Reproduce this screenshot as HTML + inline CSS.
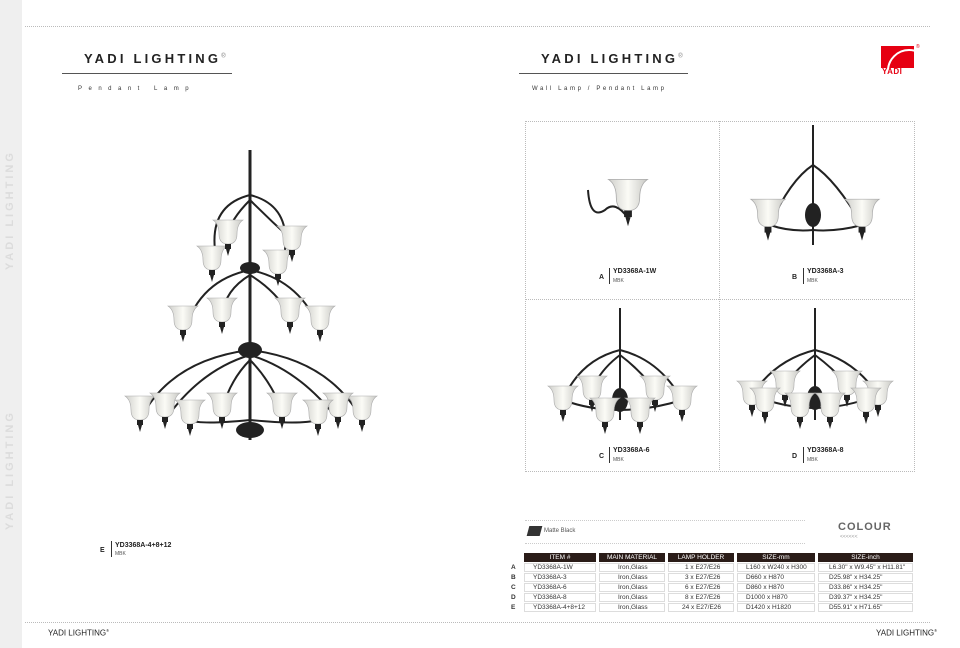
<!DOCTYPE html>
<html><head><meta charset="utf-8"><style>
body{margin:0;width:960px;height:648px;background:#fff;position:relative;overflow:hidden;font-family:"Liberation Sans",sans-serif;color:#222}
.a{position:absolute}
.t{font-size:13px;font-weight:bold;letter-spacing:3.2px}
.sub{font-size:6px;letter-spacing:6.5px;color:#333}
table{border-collapse:separate;border-spacing:3px 1px;font-size:6.5px;color:#333}
th{background:#2a1c18;color:#fff;font-weight:normal;height:9px;padding:0}
td{border:1px solid #ddd;height:7px;padding:0 0 0 8px;line-height:7px}
.lab{font-size:7px;font-weight:bold}
.mbk{font-size:5px;color:#555}
</style></head><body>
<div class="a" style="left:0;top:0;width:22px;height:648px;background:#efefef"></div>
<div class="a" style="left:4px;top:150px;width:14px;height:120px;color:#dcdcdc;font-size:11px;letter-spacing:3px;writing-mode:vertical-rl;transform:rotate(180deg);font-weight:bold">YADI LIGHTING</div>
<div class="a" style="left:4px;top:400px;width:14px;height:130px;color:#dcdcdc;font-size:11px;letter-spacing:3px;writing-mode:vertical-rl;transform:rotate(180deg);font-weight:bold">YADI LIGHTING</div>
<div class="a" style="left:25px;top:26px;width:905px;border-top:1px dotted #bbb"></div>
<div class="a" style="left:25px;top:622px;width:905px;border-top:1px dotted #bbb"></div>
<div class="a" style="left:48px;top:628px;font-size:8px">YADI LIGHTING<sup style="font-size:4px">®</sup></div>
<div class="a" style="left:876px;top:628px;font-size:8px">YADI LIGHTING<sup style="font-size:4px">®</sup></div>

<div class="a t" style="left:84px;top:51px">YADI LIGHTING<sup style="font-size:6px;font-weight:normal;color:#777">®</sup></div>
<div class="a" style="left:62px;top:73px;width:170px;border-top:1px solid #555"></div>
<div class="a sub" style="left:78px;top:86px">Pendant Lamp</div>
<div class="a t" style="left:541px;top:51px">YADI LIGHTING<sup style="font-size:6px;font-weight:normal;color:#777">®</sup></div>
<div class="a" style="left:519px;top:73px;width:169px;border-top:1px solid #555"></div>
<div class="a sub" style="left:532px;top:86px;letter-spacing:2.6px">Wall Lamp / Pendant Lamp</div>
<div class="a" style="left:881px;top:46px;width:33px;height:22px;background:#e60012;overflow:hidden"><div style="position:absolute;left:6px;top:3px;width:40px;height:40px;border-radius:50%;border:2px solid #fff"></div></div>
<div class="a" style="left:882px;top:67px;font-size:8px;font-weight:bold;color:#e60012;letter-spacing:.5px">YADI</div>
<div class="a" style="left:916px;top:44px;font-size:5px;color:#e60012">®</div>

<div class="a" style="left:525px;top:121px;width:388px;height:349px;border:1px dotted #bbb"></div>
<div class="a" style="left:719px;top:121px;height:349px;border-left:1px dotted #bbb"></div>
<div class="a" style="left:525px;top:299px;width:388px;border-top:1px dotted #bbb"></div>

<svg class="a" style="left:0;top:0" width="960" height="648">
<defs>
<linearGradient id="g" x1="0" x2="1"><stop offset="0" stop-color="#cfcfcb"/><stop offset=".5" stop-color="#fbfbf6"/><stop offset="1" stop-color="#c8c8c4"/></linearGradient>
<g id="s"><path d="M-15-12Q-9-8-9 2Q-9 12 0 12Q9 12 9 2Q9-8 15-12Z" fill="url(#g)" stroke="#aaa" stroke-width=".6"/><rect x="-3" y="12" width="6" height="5" fill="#222"/><path d="M-2 17H2L0 24Z" fill="#222"/></g>
</defs>
<g stroke="#222" fill="none" stroke-width="2">
<path d="M250 150V440" stroke-width="3"/>
<path d="M250 195Q210 205 215 250M250 195Q290 205 285 250M250 200Q230 220 228 235M250 200Q270 220 292 240"/>
<path d="M250 270Q200 280 185 330M250 270Q300 280 320 330M250 275Q225 290 222 315M250 275Q275 290 290 315"/>
<path d="M250 350Q170 360 140 420M250 350Q330 360 362 420M250 355Q200 370 165 420M250 355Q300 370 338 420M250 360Q230 380 222 410M250 360Q270 380 282 410M250 420Q200 425 190 420M250 420Q300 425 318 420"/>
</g>
<ellipse cx="250" cy="268" rx="10" ry="6" fill="#222"/><ellipse cx="250" cy="350" rx="12" ry="8" fill="#222"/><ellipse cx="250" cy="430" rx="14" ry="8" fill="#222"/>
<g><use href="#s" x="212" y="258"/><use href="#s" x="278" y="262"/><use href="#s" x="228" y="232"/><use href="#s" x="292" y="238"/>
<use href="#s" x="183" y="318"/><use href="#s" x="320" y="318"/><use href="#s" x="222" y="310"/><use href="#s" x="290" y="310"/>
<use href="#s" x="140" y="408"/><use href="#s" x="362" y="408"/><use href="#s" x="165" y="405"/><use href="#s" x="338" y="405"/><use href="#s" x="190" y="412"/><use href="#s" x="318" y="412"/><use href="#s" x="222" y="405"/><use href="#s" x="282" y="405"/></g>

<path d="M588 190Q590 220 605 210Q615 200 628 218" stroke="#222" stroke-width="2" fill="none"/>
<use href="#s" x="628" y="195" transform="translate(628 195) scale(1.3) translate(-628 -195)"/>

<g stroke="#222" stroke-width="2" fill="none"><path d="M813 125V245"/><path d="M813 165Q790 180 770 225M813 165Q836 180 862 225M813 230Q790 232 770 225M813 230Q836 232 862 225"/></g>
<ellipse cx="813" cy="215" rx="8" ry="12" fill="#222"/>
<use href="#s" x="768" y="213" transform="translate(768 213) scale(1.15) translate(-768 -213)"/><use href="#s" x="862" y="213" transform="translate(862 213) scale(1.15) translate(-862 -213)"/>

<g stroke="#222" stroke-width="2" fill="none"><path d="M620 308V420"/><path d="M620 350Q580 360 563 400M620 350Q660 360 682 400M620 355Q600 370 592 390M620 355Q640 370 655 390M620 410Q590 410 563 400M620 410Q650 410 682 400"/></g>
<ellipse cx="620" cy="400" rx="8" ry="12" fill="#222"/>
<use href="#s" x="563" y="398"/><use href="#s" x="682" y="398"/><use href="#s" x="592" y="388"/><use href="#s" x="655" y="388"/><use href="#s" x="605" y="410"/><use href="#s" x="640" y="410"/>

<g stroke="#222" stroke-width="2" fill="none"><path d="M815 308V420"/><path d="M815 350Q775 360 752 395M815 350Q855 360 878 395M815 355Q795 370 785 385M815 355Q835 370 847 385M815 408Q785 408 752 395M815 408Q845 408 878 395"/></g>
<ellipse cx="815" cy="398" rx="8" ry="12" fill="#222"/>
<use href="#s" x="752" y="393"/><use href="#s" x="878" y="393"/><use href="#s" x="785" y="383"/><use href="#s" x="847" y="383"/><use href="#s" x="765" y="400"/><use href="#s" x="866" y="400"/><use href="#s" x="800" y="405"/><use href="#s" x="830" y="405"/>
</svg>

<div class="a lab" style="left:599px;top:274px">A</div><div class="a" style="left:609px;top:268px;height:16px;border-left:1px solid #333"></div><div class="a lab" style="left:613px;top:268px">YD3368A-1W</div><div class="a mbk" style="left:613px;top:278px">MBK</div>
<div class="a lab" style="left:792px;top:274px">B</div><div class="a" style="left:803px;top:268px;height:16px;border-left:1px solid #333"></div><div class="a lab" style="left:807px;top:268px">YD3368A-3</div><div class="a mbk" style="left:807px;top:278px">MBK</div>
<div class="a lab" style="left:599px;top:453px">C</div><div class="a" style="left:609px;top:447px;height:16px;border-left:1px solid #333"></div><div class="a lab" style="left:613px;top:447px">YD3368A-6</div><div class="a mbk" style="left:613px;top:457px">MBK</div>
<div class="a lab" style="left:792px;top:453px">D</div><div class="a" style="left:803px;top:447px;height:16px;border-left:1px solid #333"></div><div class="a lab" style="left:807px;top:447px">YD3368A-8</div><div class="a mbk" style="left:807px;top:457px">MBK</div>
<div class="a lab" style="left:100px;top:547px">E</div><div class="a" style="left:111px;top:541px;height:16px;border-left:1px solid #333"></div><div class="a lab" style="left:115px;top:542px">YD3368A-4+8+12</div><div class="a mbk" style="left:115px;top:551px">MBK</div>

<div class="a" style="left:525px;top:520px;width:280px;border-top:1px dotted #ccc"></div>
<div class="a" style="left:525px;top:543px;width:280px;border-top:1px dotted #ccc"></div>
<div class="a" style="left:528px;top:526px;width:13px;height:10px;background:#333;transform:skewX(-15deg)"></div>
<div class="a" style="left:544px;top:528px;font-size:6px;color:#555">Matte Black</div>
<div class="a" style="left:838px;top:521px;font-size:11px;font-weight:bold;color:#666;letter-spacing:1px">COLOUR</div>
<div class="a" style="left:840px;top:534px;font-size:5px;color:#999">&lt;&lt;&lt;&lt;&lt;&lt;</div>

<div class="a" style="left:508px;top:552px">
<table>
<tr><th style="background:none;width:10px"></th><th style="width:72px">ITEM #</th><th style="width:66px">MAIN MATERIAL</th><th style="width:66px">LAMP HOLDER</th><th style="width:78px">SIZE-mm</th><th style="width:95px">SIZE-inch</th></tr>
<tr><td style="border:none;padding:0;font-weight:bold">A</td><td>YD3368A-1W</td><td style="padding-left:18px">Iron,Glass</td><td style="padding-left:16px">1 x E27/E26</td><td>L160 x W240 x H300</td><td style="padding-left:10px">L6.30" x W9.45" x H11.81"</td></tr>
<tr><td style="border:none;padding:0;font-weight:bold">B</td><td>YD3368A-3</td><td style="padding-left:18px">Iron,Glass</td><td style="padding-left:16px">3 x E27/E26</td><td>D660 x H870</td><td style="padding-left:10px">D25.98" x H34.25"</td></tr>
<tr><td style="border:none;padding:0;font-weight:bold">C</td><td>YD3368A-6</td><td style="padding-left:18px">Iron,Glass</td><td style="padding-left:16px">6 x E27/E26</td><td>D860 x H870</td><td style="padding-left:10px">D33.86" x H34.25"</td></tr>
<tr><td style="border:none;padding:0;font-weight:bold">D</td><td>YD3368A-8</td><td style="padding-left:18px">Iron,Glass</td><td style="padding-left:16px">8 x E27/E26</td><td>D1000 x H870</td><td style="padding-left:10px">D39.37" x H34.25"</td></tr>
<tr><td style="border:none;padding:0;font-weight:bold">E</td><td>YD3368A-4+8+12</td><td style="padding-left:18px">Iron,Glass</td><td style="padding-left:13px">24 x E27/E26</td><td>D1420 x H1820</td><td style="padding-left:10px">D55.91" x H71.65"</td></tr>
</table></div>
</body></html>
